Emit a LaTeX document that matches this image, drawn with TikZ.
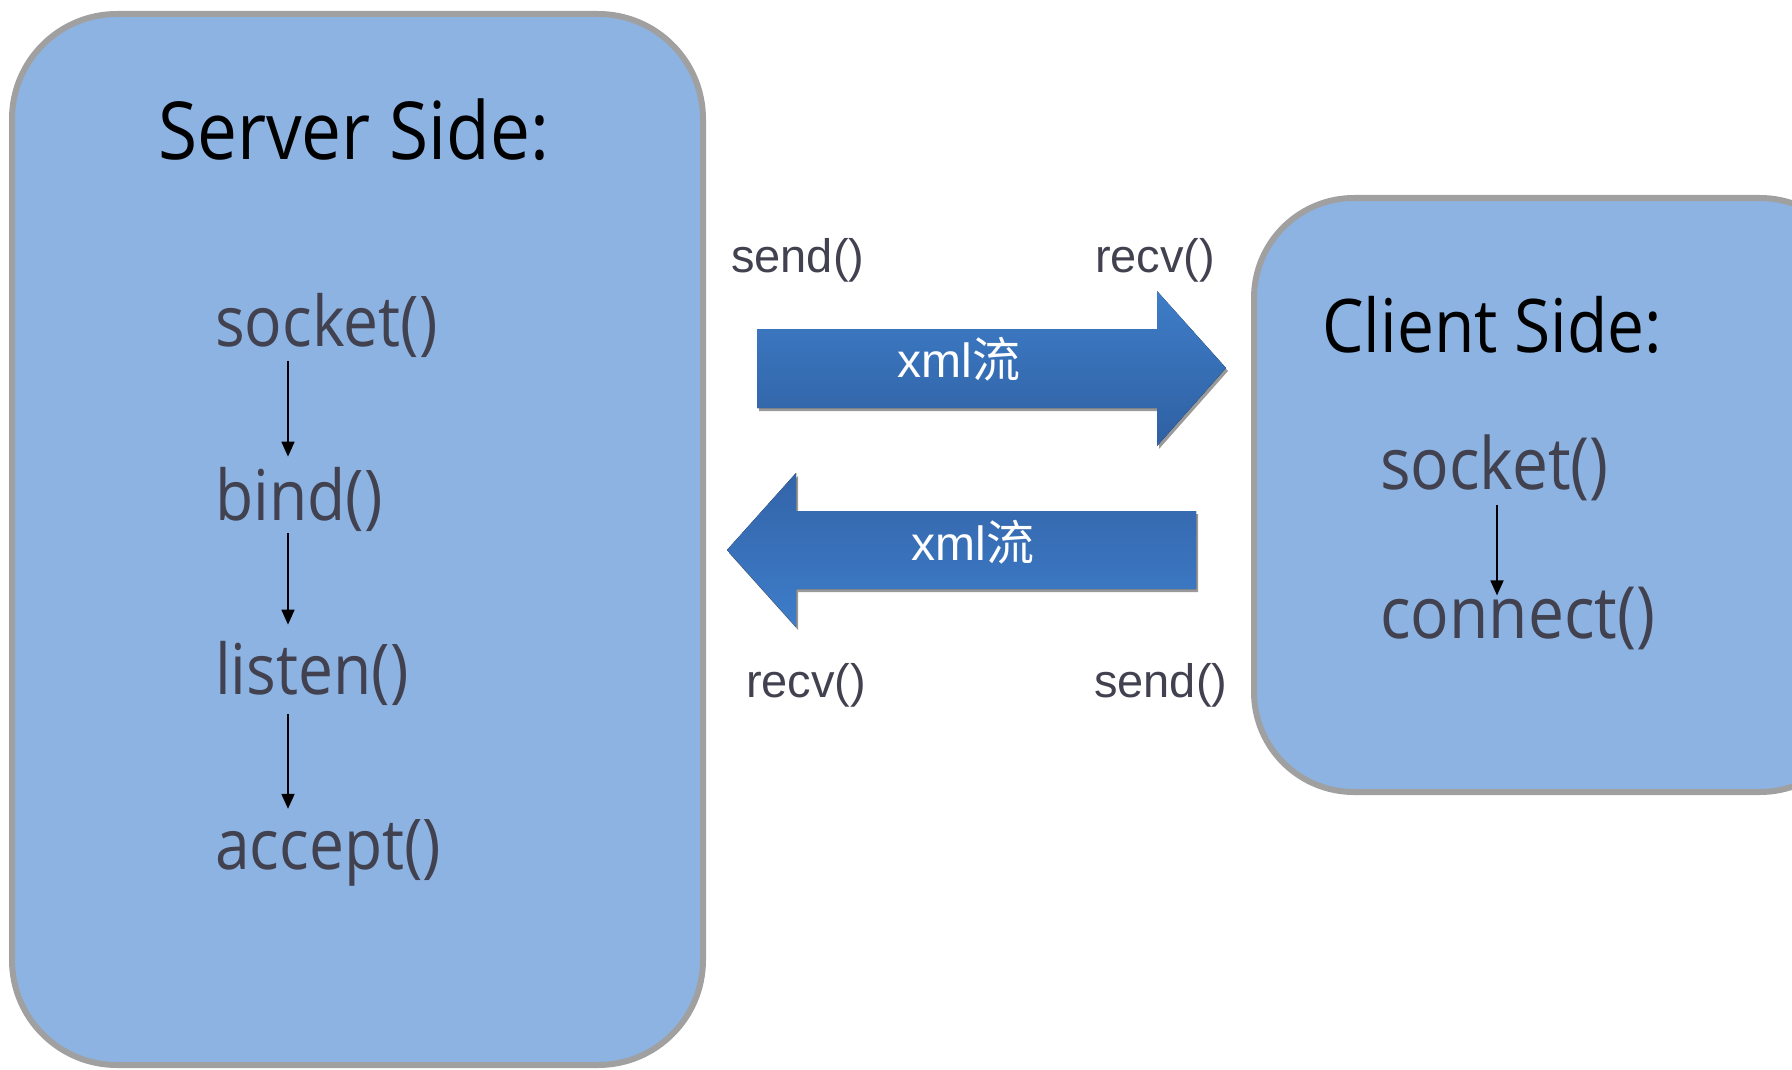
\documentclass[tikz,border=0pt]{standalone}
\usepackage{fontspec}
\setmainfont{Liberation Sans}
\newfontfamily\boxfont[FakeStretch=0.89]{Open Sans}
\newfontfamily\cjk{Noto Sans CJK SC}
\usetikzlibrary{positioning}
\usetikzlibrary{arrows.meta}

\definecolor{boxfill}{HTML}{8DB3E2}
\definecolor{boxedge}{HTML}{A0A0A0}
\definecolor{callgray}{HTML}{414150}
\definecolor{rtop}{HTML}{3E7DC8}
\definecolor{rbot}{HTML}{2F60A2}
\definecolor{ltop}{HTML}{3364A8}
\definecolor{lbot}{HTML}{3E7DCA}
\definecolor{shadowgray}{HTML}{9A9A9A}

\tikzset{
  sidebox/.style={draw=boxedge, line width=6pt, fill=boxfill},
  sidetitle/.style={font=\boxfont\fontsize{80}{90}\selectfont, text=black, inner sep=0pt},
  fncall/.style={font=\boxfont\fontsize{70}{80}\selectfont, text=callgray, inner sep=0pt},
  apilabel/.style={font=\fontsize{47}{52}\selectfont, text=callgray, inner sep=0pt},
  flowtext/.style={font=\fontsize{48}{54}\selectfont, text=white, inner sep=0pt},
  flow/.style={-{Triangle[length=15pt,width=13pt]}, line width=1.8pt, black},
}

\begin{document}
\begin{tikzpicture}[x=1pt,y=-1pt]
\useasboundingbox (0,0) rectangle (1792,1070);
\clip (0,0) rectangle (1792,1070);

% boxes
\draw[sidebox, rounded corners=105pt] (12,14) rectangle (703,1065);
\draw[sidebox, rounded corners=100pt] (1254,198) rectangle (1860,792);

% server side
\node[sidetitle, anchor=base west] (stitle) at (158,160) {Server Side:};
\node[fncall, anchor=base west] (ssock) at (215,346) {socket()};
\node[fncall, anchor=base west] (sbind) at (215,520) {bind()};
\node[fncall, anchor=base west] (slisten) at (215,694) {listen()};
\node[fncall, anchor=base west] (saccept) at (215,869) {accept()};

\draw[flow] ([xshift=73pt,yshift=-4pt]ssock.south west) -- ([xshift=73pt,yshift=10pt]sbind.north west);
\draw[flow] ([xshift=73pt,yshift=-2pt]sbind.south west) -- ([xshift=73pt,yshift=16pt]slisten.north west);
\draw[flow] ([xshift=73pt,yshift=-9pt]slisten.south west) -- ([xshift=73pt,yshift=10pt]saccept.north west);

% client side
\node[sidetitle, font=\boxfont\fontsize{74}{84}\selectfont, anchor=base west] (ctitle) at (1322,352) {Client Side:};
\node[fncall, font=\boxfont\fontsize{72}{82}\selectfont, anchor=base west] (csock) at (1380,489) {socket()};
\node[fncall, font=\boxfont\fontsize{72}{82}\selectfont, anchor=base west] (cconn) at (1380,638) {connect()};

\draw[flow] ([xshift=117pt,yshift=-4pt]csock.south west) -- ([xshift=117pt,yshift=-9pt]cconn.north west);

% block arrows
  % server to client
\fill[shadowgray] (759,332) -- (1159,332) -- (1159,294) -- (1228,371) -- (1159,449) -- (1159,411) -- (759,411) -- cycle;
\fill[top color=rtop, bottom color=rbot] (757,329) -- (1157,329) -- (1157,291) -- (1226,368) -- (1157,446) -- (1157,408) -- (757,408) -- cycle;
\node[flowtext, anchor=base] (xmlto) at (959,377) {xml{\cjk 流}};
  % client to server
\fill[shadowgray] (1198,514) -- (798,514) -- (798,476) -- (729,553) -- (798,630) -- (798,592) -- (1198,592) -- cycle;
\fill[top color=ltop, bottom color=lbot] (1196,511) -- (796,511) -- (796,473) -- (727,550) -- (796,627) -- (796,589) -- (1196,589) -- cycle;
\node[flowtext, anchor=base] (xmlback) at (973,560) {xml{\cjk 流}};

% calls
\node[apilabel, anchor=base west] (ssend) at (731,272) {send()};
\node[apilabel, anchor=base west] (crecv) at (1095,272) {recv()};
\node[apilabel, anchor=base west] (srecv) at (746,697) {recv()};
\node[apilabel, anchor=base west] (csend) at (1094,697) {send()};

\end{tikzpicture}
\end{document}
